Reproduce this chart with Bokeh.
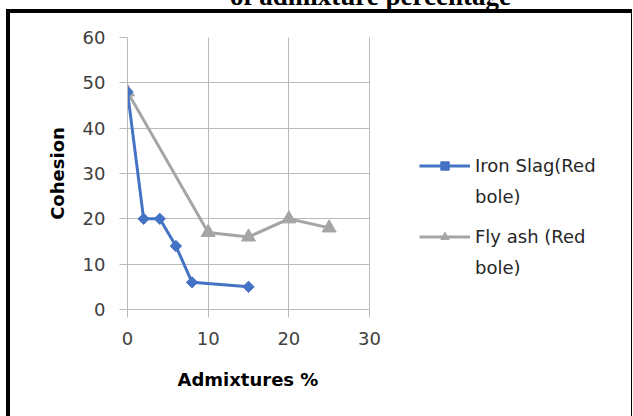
from bokeh.plotting import figure
from bokeh.models import Legend, LegendItem, FixedTicker, Range1d, Div, Title
from bokeh.layouts import column
from bokeh.embed import file_html
from bokeh.resources import INLINE
import math

# ---- data ----
iron_x = [0, 2, 4, 6, 8, 15]
iron_y = [48, 20, 20, 14, 6, 5]
fly_x = [0, 10, 15, 20, 25]
fly_y = [48, 17, 16, 20, 18]
x_ticks = [0, 10, 20, 30]
y_ticks = [0, 10, 20, 30, 40, 50, 60]
x_span = (0, 30)
y_span = (0, 60)
iron_label = ["Iron Slag(Red", "bole)"]
fly_label = ["Fly ash (Red", "bole)"]
title_text = "of admixture percentage"
x_title = "Admixtures %"
y_title = "Cohesion"

FONT = "DejaVu Sans"
BLUE = "#4472C4"
GRAY = "#A5A5A5"
GRID = "#BBBBBB"

# plot area is 242 px wide for x_span; frame is extended to the right edge
FRAME_W = 633 - 127
x_end = x_span[1] * FRAME_W / 242.0

p = figure(width=633, height=407, output_backend="svg", toolbar_location=None,
           x_range=Range1d(x_span[0], x_end), y_range=Range1d(*y_span),
           min_border_left=127, min_border_right=0,
           min_border_top=28, min_border_bottom=107)
p.outline_line_color = None
p.background_fill_alpha = 0
p.border_fill_alpha = 0
p.styles = {"box-shadow": "inset 6px 0 0 0 white, inset -1px 0 0 0 white, "
                          "inset 10px 4px 0 0 black, inset -2px 0 0 0 black"}

for ax in (p.xaxis[0], p.yaxis[0]):
    ax.axis_line_color = GRID
    ax.major_tick_line_color = GRID
    ax.major_tick_out = 8
    ax.major_tick_in = 0
    ax.minor_tick_line_color = None
    ax.major_label_text_font = FONT
    ax.major_label_text_font_size = "18px"
    ax.major_label_text_color = "#404040"
    ax.axis_label_text_font = FONT
    ax.axis_label_text_font_size = "18px"
    ax.axis_label_text_font_style = "bold"
    ax.axis_label_text_color = "#000000"

p.xaxis.bounds = x_span
p.xaxis.ticker = FixedTicker(ticks=x_ticks)
p.yaxis.ticker = FixedTicker(ticks=y_ticks)
p.yaxis.axis_label = y_title
p.xaxis.major_label_standoff = 14
p.yaxis.major_label_standoff = 14
p.yaxis.axis_label_standoff = 12

# x-axis title, centred under the 0..30 plot area
p.add_layout(Title(text=x_title, align="left", offset=50, vertical_align="top",
                   standoff=42, text_font=FONT, text_font_size="18px",
                   text_font_style="bold", text_color="#000000"), "below")

p.xgrid.ticker = FixedTicker(ticks=x_ticks)
p.ygrid.ticker = FixedTicker(ticks=y_ticks)
p.xgrid.grid_line_color = GRID
p.ygrid.grid_line_color = GRID
if "cross_bounds" in p.ygrid[0].properties():
    p.ygrid.cross_bounds = x_span
    p.xgrid.cross_bounds = y_span

r_fly_l = p.line(fly_x, fly_y, line_color=GRAY, line_width=3)
r_fly_m = p.scatter(fly_x, fly_y, marker="triangle", size=14,
                    fill_color=GRAY, line_color=GRAY)
r_iron_l = p.line(iron_x, iron_y, line_color=BLUE, line_width=3)
r_iron_m = p.scatter(iron_x, iron_y, marker="square", angle=math.pi / 4, size=8,
                     fill_color=BLUE, line_color=BLUE)


def make_legend(lines, renderers, loc):
    lg = Legend(items=[LegendItem(label=lines[0], renderers=renderers),
                       LegendItem(label=lines[1], renderers=[])],
                location=loc)
    lg.border_line_color = None
    lg.background_fill_alpha = 0
    lg.label_text_font = FONT
    lg.label_text_font_size = "18px"
    lg.label_text_color = "#262626"
    lg.glyph_width = 51
    lg.glyph_height = 21
    lg.label_height = 21
    lg.label_standoff = 5
    lg.spacing = 10
    lg.padding = 0
    lg.margin = 0
    return lg


p.add_layout(make_legend(iron_label, [r_iron_l, r_iron_m], (292, 102)), "center")
p.add_layout(make_legend(fly_label, [r_fly_l, r_fly_m], (292, 31)), "center")

title = Div(text='<span style="margin-left:230px">' + title_text + '</span>',
            width=633, height=26, margin=(-17, 0, 0, 0),
            styles={"font-family": "Liberation Serif", "font-weight": "bold",
                    "font-size": "27px", "line-height": "27px",
                    "white-space": "nowrap", "color": "black"})

layout = column(title, p, spacing=0)
open("out.html", "w").write(file_html(layout, INLINE))
